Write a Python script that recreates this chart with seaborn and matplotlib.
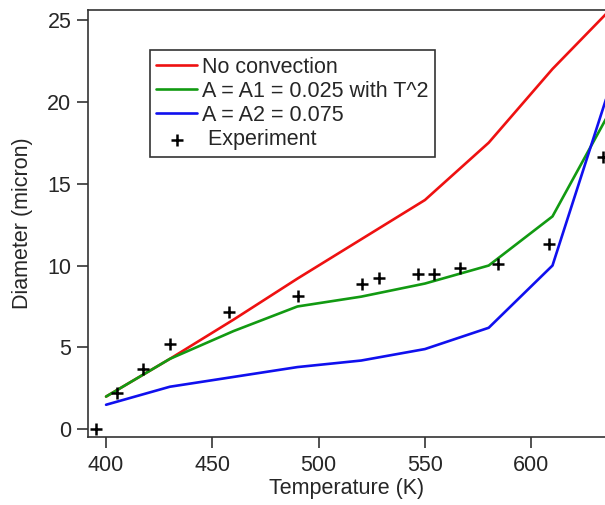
import numpy as np
import pandas as pd
import matplotlib
matplotlib.use('Agg')
import matplotlib.pyplot as plt
import seaborn as sns

# model curves
temp_model = [400, 430, 460, 490, 520, 550, 580, 610, 640]
no_convection = [2.0, 4.3, 6.7, 9.2, 11.6, 14.0, 17.5, 22.0, 26.0]
a1_t2 = [2.0, 4.3, 6.0, 7.5, 8.1, 8.9, 10.0, 13.0, 20.1]
a2 = [1.5, 2.6, 3.2, 3.8, 4.2, 4.9, 6.2, 10.0, 22.1]

# experiment points
exp_temp = [395.3, 405.3, 417.3, 430.1, 457.7, 490.5, 520.6, 528.6,
            546.9, 554.4, 566.5, 584.2, 608.4, 633.9]
exp_diam = [0.0, 2.2, 3.66, 5.2, 7.14, 8.14, 8.87, 9.22,
            9.48, 9.48, 9.87, 10.09, 11.31, 16.6]

labels = ['No convection', 'A = A1 = 0.025 with T^2', 'A = A2 = 0.075']
colors = ['#ee1111', '#129a12', '#1010ee']

sns.set_theme(style='ticks')
plt.rcParams['font.family'] = ['Liberation Sans', 'DejaVu Sans']
plt.rcParams['font.size'] = 15.5

fig = plt.figure(figsize=(6.05, 5.05), dpi=100)
ax = fig.add_axes([88 / 605, (505 - 436.7) / 505, 1 - 88 / 605, (436.7 - 10) / 505])

for ys, lab, col in zip([no_convection, a1_t2, a2], labels, colors):
    df = pd.DataFrame({'T': temp_model, 'D': ys})
    sns.lineplot(data=df, x='T', y='D', ax=ax, color=col, linewidth=1.9,
                 label=lab, sort=False)

exp_df = pd.DataFrame({'T': exp_temp, 'D': exp_diam})
sns.scatterplot(data=exp_df, x='T', y='D', ax=ax, marker='+', s=80,
                color='black', linewidth=1.8, label=' Experiment', zorder=5)

ax.set_xlim(391.5, 634.7)
ax.set_ylim(-0.45, 25.6)
ax.set_xticks([400, 450, 500, 550, 600])
ax.set_yticks([0, 5, 10, 15, 20, 25])

for side in ['left', 'bottom', 'top']:
    ax.spines[side].set_color('#333333')
    ax.spines[side].set_linewidth(1.2)
ax.spines['right'].set_visible(False)
ax.tick_params(axis='both', direction='out', length=8, width=1.2,
               color='#333333', labelsize=15.5, pad=4)
ax.tick_params(axis='x', pad=5.5)

ax.set_xlabel('Temperature (K)', fontsize=15.5, labelpad=1)
ax.set_ylabel('Diameter (micron)', fontsize=15.5, labelpad=10)

leg = ax.legend(loc='upper left', bbox_to_anchor=(0.12, 0.906), borderaxespad=0,
                fontsize=15.5, frameon=True, fancybox=False, framealpha=1,
                edgecolor='#333333', handlelength=1.9, handletextpad=0.2,
                labelspacing=0.15, borderpad=0.3)
leg.get_frame().set_linewidth(1.2)

fig.savefig('out.png', dpi=100)
